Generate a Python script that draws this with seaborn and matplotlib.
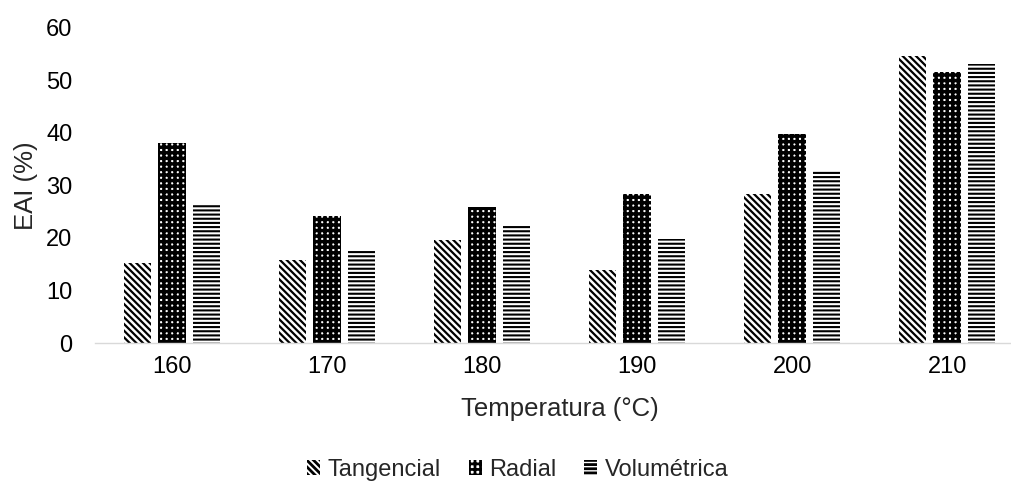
import matplotlib
matplotlib.use("Agg")
import matplotlib.pyplot as plt
from matplotlib.patches import Patch
import seaborn as sns
import pandas as pd

temperaturas = ["160", "170", "180", "190", "200", "210"]
tangencial = [15.2, 15.8, 19.6, 13.9, 28.3, 54.6]
radial = [38.0, 24.1, 25.9, 28.3, 39.7, 51.5]
volumetrica = [26.2, 17.9, 22.2, 19.8, 32.7, 53.0]
series = ["Tangencial", "Radial", "Volumétrica"]

df = pd.DataFrame({
    "Temperatura": temperaturas * 3,
    "EAI": tangencial + radial + volumetrica,
    "Serie": [s for s in series for _ in temperaturas],
})

sns.set_theme(style="white")
plt.rcParams["font.family"] = ["Liberation Sans", "DejaVu Sans"]
plt.rcParams["hatch.linewidth"] = 2.0
plt.rcParams["hatch.color"] = "black"

fig = plt.figure(figsize=(10.11, 4.86), dpi=100)
ax = fig.add_axes([0.0935, 0.2942, 0.920, 0.6492])

sns.barplot(data=df, x="Temperatura", y="EAI", hue="Serie", order=temperaturas,
            hue_order=series, width=0.67, gap=0.21, ax=ax, legend=False)

# black-on-white pattern fills: wide diagonal, dense grid, horizontal lines
styles = {
    "Tangencial": dict(hatch="\\" * 5, lw=1.6),
    "Radial": dict(hatch="+++", lw=2.5),
    "Volumétrica": dict(hatch="----", lw=1.5),
}


def style_patch(p, st):
    p.set_facecolor("white")
    p.set_edgecolor("black")
    p.set_hatch(st["hatch"])
    p.set_linewidth(0)
    if hasattr(p, "set_hatch_linewidth"):
        p.set_hatch_linewidth(st["lw"])


for cont, s in zip(ax.containers, series):
    for bar in cont:
        style_patch(bar, styles[s])

ax.set_ylim(0, 60)
ax.set_yticks(range(0, 61, 10))
ax.set_xlim(-0.5, 5.5)
for sp in ["top", "right", "left"]:
    ax.spines[sp].set_visible(False)
ax.spines["bottom"].set_color("#d9d9d9")
ax.spines["bottom"].set_linewidth(1)
ax.tick_params(axis="both", length=0, labelsize=17, colors="#000000")
ax.tick_params(axis="y", pad=16)
ax.tick_params(axis="x", pad=9)
ax.set_xlabel("Temperatura (°C)", fontsize=18.5, labelpad=14)
ax.set_ylabel("EAI (%)", fontsize=18.5, labelpad=6)

handles = []
for s in series:
    h = Patch(label=s)
    style_patch(h, styles[s])
    handles.append(h)
fig.legend(handles=handles, loc="center", bbox_to_anchor=(0.512, 0.033), ncol=3,
           frameon=False, fontsize=17, handlelength=0.55, handleheight=0.55,
           handletextpad=0.3, columnspacing=1.2)

fig.savefig("out.png", dpi=100)
